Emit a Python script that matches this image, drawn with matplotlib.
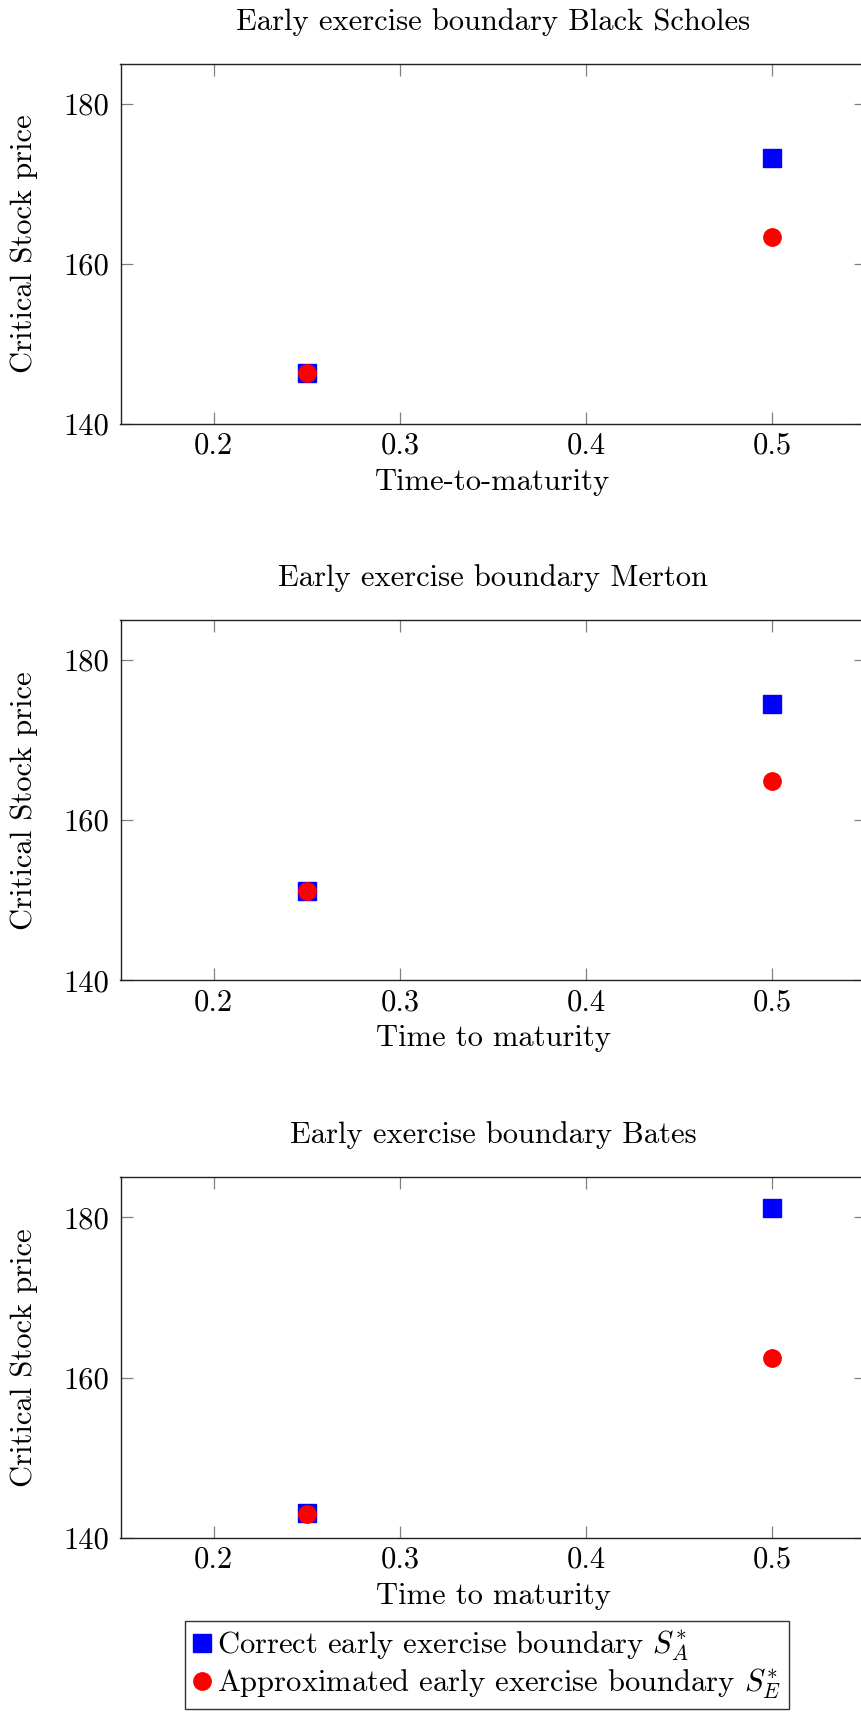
import matplotlib
matplotlib.use("Agg")
import matplotlib.pyplot as plt

plt.rcParams['font.family'] = ['cmr10', 'DejaVu Serif']
plt.rcParams['mathtext.fontset'] = 'cm'
plt.rcParams['axes.formatter.use_mathtext'] = True

titles = ["Early exercise boundary Black Scholes",
          "Early exercise boundary Merton",
          "Early exercise boundary Bates"]
xlabels = ["Time-to-maturity", "Time to maturity", "Time to maturity"]
ylabel = "Critical Stock price"
maturities = [0.25, 0.5]
correct = [[146.4, 173.2], [151.2, 174.5], [143.1, 181.2]]
approx = [[146.4, 163.3], [151.2, 164.9], [143.0, 162.5]]
xticks = [0.2, 0.3, 0.4, 0.5]
yticks = [140, 160, 180]
label_correct = r"Correct early exercise boundary $S^{*}_{A}$"
label_approx = r"Approximated early exercise boundary $S^{*}_{E}$"

W, H = 862, 1718
fig = plt.figure(figsize=(W/100, H/100), dpi=100)

left = 120.5 / W
width = (865.6 - 120.5) / W
tops = [63.5, 620.0, 1177.4]
ph = 360.4
title_y = [22.0, 578.0, 1135.0]
xlabel_y = [482.0, 1038.0, 1596.0]

fs = 22
handles = None
for i in range(3):
    ax = fig.add_axes([left, 1 - (tops[i] + ph) / H, width, ph / H])
    h1, = ax.plot(maturities, correct[i], linestyle='none', marker='s',
                  markersize=12.5, color='#0000ff', label=label_correct)
    h2, = ax.plot(maturities, approx[i], linestyle='none', marker='o',
                  markersize=12.5, color='#ff0000', label=label_approx)
    if handles is None:
        handles = [h1, h2]
    ax.set_xlim(0.15, 0.55)
    ax.set_ylim(140, 185)
    ax.set_xticks(xticks)
    ax.set_yticks(yticks)
    ax.set_xticklabels([str(t) for t in xticks])
    ax.set_yticklabels([str(t) for t in yticks])
    ax.tick_params(direction='in', top=True, right=True, length=8.5,
                   width=0.9, color='#808080', labelsize=fs)
    ax.tick_params(axis='y', pad=8)
    ax.tick_params(axis='x', pad=6)
    for s in ax.spines.values():
        s.set_linewidth(1.0)
        s.set_color('#222222')
    cx = (left + width / 2)
    fig.text(cx, 1 - title_y[i] / H, titles[i], ha='center', va='center', fontsize=fs)
    fig.text(cx, 1 - xlabel_y[i] / H, xlabels[i], ha='center', va='center', fontsize=fs)
    ycen = 1 - (tops[i] + ph / 2) / H
    fig.text(24.0 / W, ycen, ylabel, ha='center', va='center',
             rotation=90, fontsize=fs)

leg = fig.legend(handles=handles, loc='upper center',
                 bbox_to_anchor=(487 / W, 1 - 1621 / H), fontsize=fs,
                 frameon=True, fancybox=False, edgecolor='black',
                 handlelength=0.6, handletextpad=0.2, borderpad=0.25,
                 labelspacing=0.1, borderaxespad=0, markerscale=1.0)
leg.get_frame().set_linewidth(1.0)

fig.savefig("out.png", dpi=100)
